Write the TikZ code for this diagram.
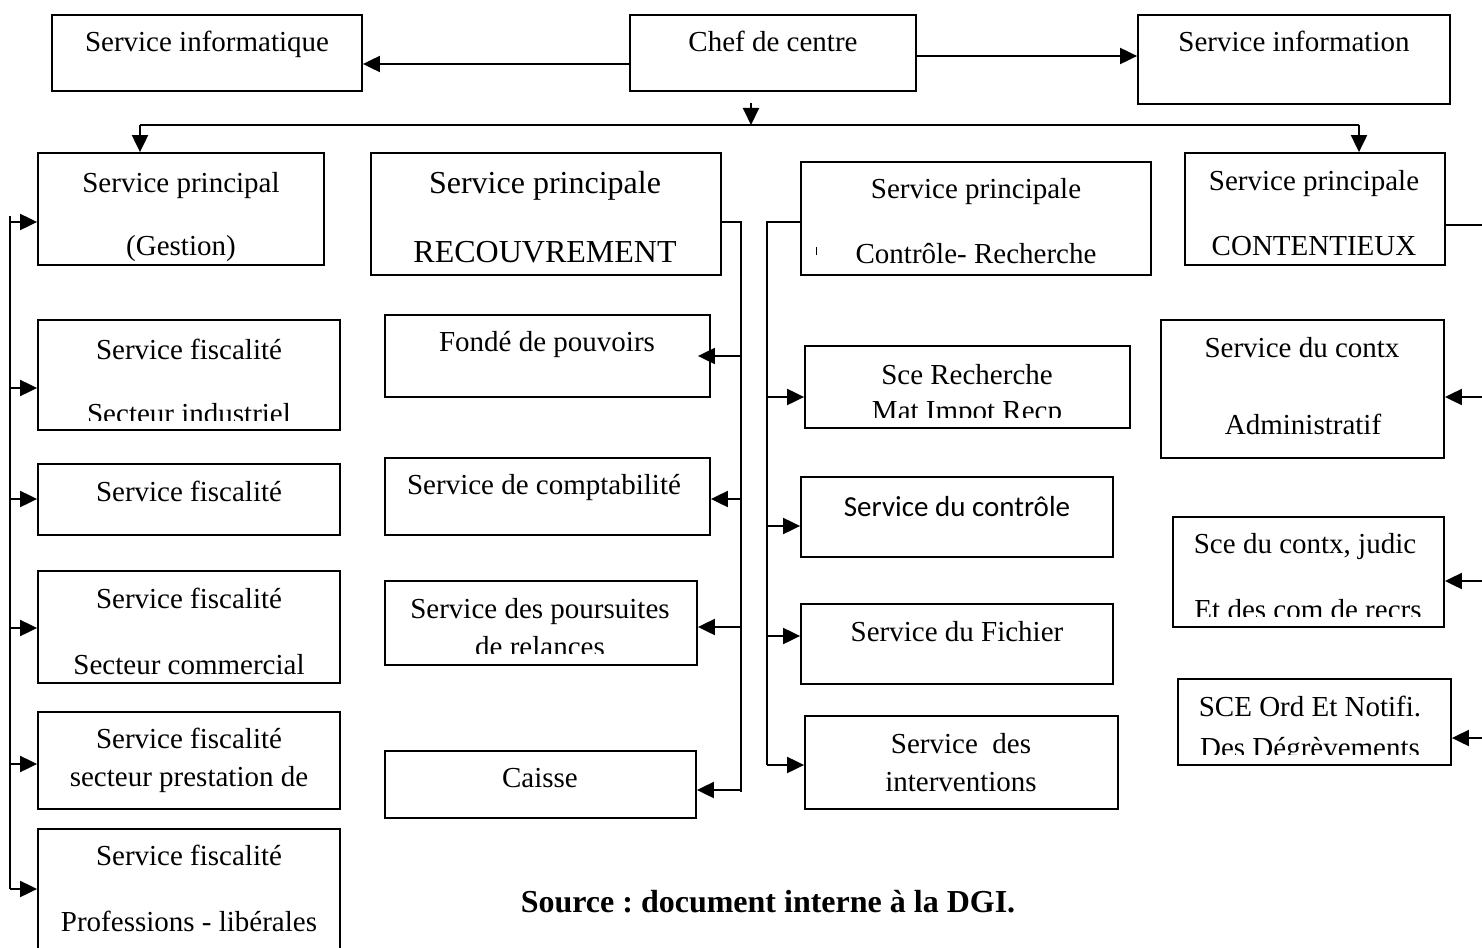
\documentclass[tikz,border=0pt]{standalone}
\usepackage{fontspec}
\setmainfont{Liberation Serif}
\newfontfamily\calib{Carlito}
\usetikzlibrary{arrows.meta,fit}
\frenchspacing

\tikzset{
  box/.style={draw,line width=1.8pt,inner sep=0pt,fit={#1}},
  txt/.style={anchor=base,inner sep=0pt,font=\fontsize{29}{34}\selectfont},
  big/.style={txt,font=\fontsize{32}{38}\selectfont},
  link/.style={line width=2pt},
  arr/.style={link,-{Triangle[length=17pt,width=16pt]}}
}

\begin{document}
\begin{tikzpicture}[x=1pt,y=-1pt]
\clip (0,0) rectangle (1482,947);
% top row
\node[box={(52,15) (362,91)}] (info) {};
\node[box={(630,15) (916,91)}] (chef) {};
\node[box={(1138,15) (1450,104)}] (infor) {};
\node[txt] (tinfo) at (207,52) {Service informatique};
\node[txt] (tchef) at (773,52) {Chef de centre};
\node[txt] (tinfor) at (1294,52) {Service information};
% main services
\node[box={(38,153) (324,265)}] (gest) {};
\node[box={(371,153) (721,275)}] (recv) {};
\node[box={(801,162) (1151,275)}] (ctrl) {};
\node[box={(1185,153) (1445,265)}] (cont) {};
\node[txt] (tgest1) at (181,192) {Service principal};
\node[txt] (tgest2) at (181,255) {(Gestion)};
\node[big] (trecv1) at (545,193) {Service principale};
\node[big] (trecv2) at (545,262) {RECOUVREMENT};
\node[txt] (tctrl1) at (976,198) {Service principale};
\node[txt] (tctrl2) at (976,263) {Contrôle- Recherche};
\node[txt] (tcont1) at (1314,190) {Service principale};
\node[txt] (tcont2) at (1314,255) {CONTENTIEUX};
\draw[line width=1pt] (816,247) -- (816,255);
% gestion column
\node[box={(38,320) (340,430)}] (indu) {};
\node[box={(38,464) (340,535)}] (fisc) {};
\node[box={(38,571) (340,683)}] (comm) {};
\node[box={(38,712) (340,809)}] (prest) {};
\node[box={(38,829) (340,990)}] (prof) {};
\node[txt] (tindu1) at (189,359) {Service fiscalité};
\begin{scope}
\clip (38,320) rectangle (340,420);
\node[txt] (tindu2) at (189,423) {Secteur industriel};
\end{scope}
\node[txt] (tfisc) at (189,501) {Service fiscalité};
\node[txt] (tcomm1) at (189,608) {Service fiscalité};
\node[txt] (tcomm2) at (189,674) {Secteur commercial};
\node[txt] (tprest1) at (189,748) {Service fiscalité};
\node[txt] (tprest2) at (189,786) {secteur prestation de};
\node[txt] (tprof1) at (189,865) {Service fiscalité};
\node[txt] (tprof2) at (189,931) {Professions - libérales};
% recouvrement column
\node[box={(385,315) (710,397)}] (fonde) {};
\node[box={(385,458) (710,535)}] (compt) {};
\node[box={(385,581) (697,665)}] (pours) {};
\node[box={(385,751) (696,818)}] (caisse) {};
\node[txt] (tfonde) at (547,351) {Fondé de pouvoirs};
\node[txt] (tcompt) at (544,494) {Service de comptabilité};
\node[txt] (tpours1) at (540,618) {Service des poursuites};
\begin{scope}
\clip (385,581) rectangle (697,653);
\node[txt] (tpours2) at (540,656) {de relances};
\end{scope}
\node[txt] (tcaisse) at (540,787) {Caisse};
% controle column
\node[box={(805,346) (1130,428)}] (rech) {};
\node[box={(801,477) (1113,557)}] (ctl2) {};
\node[box={(801,604) (1113,684)}] (fich) {};
\node[box={(805,716) (1118,809)}] (interv) {};
\node[txt] (trech1) at (967,384) {Sce Recherche};
\begin{scope}
\clip (805,346) rectangle (1130,417);
\node[txt] (trech2) at (967,420) {Mat Impot Recp};
\end{scope}
\node[txt,font=\calib\fontsize{29}{34}\selectfont] (tctl2) at (957,516) {Service du contrôle};
\node[txt] (tfich) at (957,641) {Service du Fichier};
\node[txt] (tinterv1) at (961,753) {Service\ \ des};
\node[txt] (tinterv2) at (961,791) {interventions};
% contentieux column
\node[box={(1161,320) (1444,458)}] (adm) {};
\node[box={(1173,517) (1444,627)}] (judic) {};
\node[box={(1178,679) (1451,765)}] (ord) {};
\node[txt] (tadm1) at (1302,357) {Service du contx};
\node[txt] (tadm2) at (1303,434) {Administratif};
\node[txt] (tjudic1) at (1305,553) {Sce du contx, judic};
\begin{scope}
\clip (1173,517) rectangle (1444,616);
\node[txt] (tjudic2) at (1308,619) {Et des com de recrs};
\end{scope}
\node[txt] (tord1) at (1310,716) {SCE Ord Et Notifi.};
\begin{scope}
\clip (1178,679) rectangle (1451,754);
\node[txt] (tord2) at (1310,757) {Des Dégrèvements};
\end{scope}
% connectors from the head
\coordinate (ci) at (630,64);
\coordinate (cn) at (916,56);
\draw[arr] (ci) -- (ci -| info.east);
\draw[arr] (cn) -- (cn -| infor.west);
\coordinate (cd) at (751,103);
\coordinate (bus) at (751,125);
\draw[arr] (cd) -- (bus);
\coordinate (bl) at (140,125);
\coordinate (br) at (1359,125);
\draw[link] (bl) -- (br);
\draw[arr] (bl) -- (bl |- gest.north);
\draw[arr] (br) -- (br |- cont.north);
% side buses
\draw[link] (10,216) -- (10,889);
\foreach \y/\b in {222/gest,388/indu,499/fisc,628/comm,764/prest,889/prof}
  \draw[arr] (10,\y) -- (10,\y -| \b.west);
\coordinate (m0) at (741,222);
\draw[link] (m0 -| recv.east) -- (m0) -- (741,792);
\draw[arr,shorten >=-13pt] (741,356) -- (741,356 -| fonde.east);
\foreach \y/\b in {499/compt,627/pours,790/caisse}
  \draw[arr] (741,\y) -- (741,\y -| \b.east);
\coordinate (n0) at (767,222);
\draw[link] (n0 -| ctrl.west) -- (n0) -- (767,765);
\foreach \y/\b in {397/rech,526/ctl2,636/fich,765/interv}
  \draw[arr] (767,\y) -- (767,\y -| \b.west);
\coordinate (r0) at (1490,225);
\draw[link] (r0 -| cont.east) -- (r0) -- (1490,738);
\foreach \y/\b in {397/adm,581/judic,738/ord}
  \draw[arr] (1490,\y) -- (1490,\y -| \b.east);
% source
\node[txt,font=\bfseries\fontsize{32}{38}\selectfont] (src) at (768,912) {Source : document interne à la DGI.};
\end{tikzpicture}
\end{document}
